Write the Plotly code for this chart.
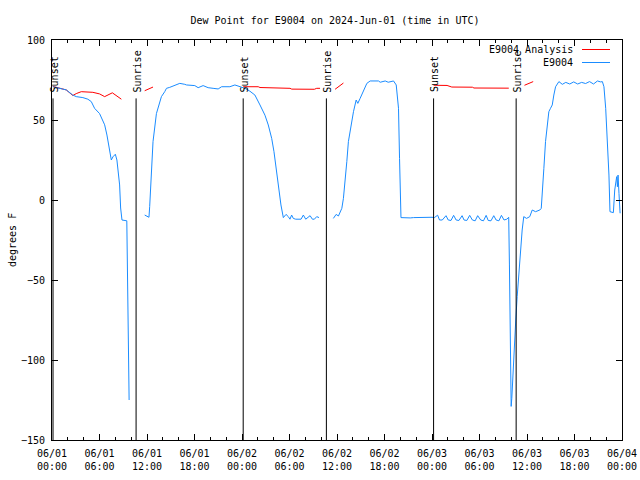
import plotly.graph_objects as go

# ---------------- data (hours since 2024-06-01 00:00 UTC) ----------------
obs_hours = [
    0.1, 0.95, 1.8, 2.63, 3.06, 3.9, 4.53, 4.96, 5.38, 6.01, 6.43, 6.65, 6.94, 7.19, 7.41, 7.49,
    7.7, 8.0, 8.2, 8.33, 8.54, 8.67, 8.84, 9.45, 9.5, 9.62, 9.74, None,
    11.71, 12.13, 12.25, 12.34, 12.56, 12.76, 13.19, 13.61, 13.82, 14.24, 14.46, 14.87, 15.29,
    15.92, 16.14, 16.77, 16.99, 18.04, 18.46, 19.09, 19.72, 20.35, 20.99, 21.42, 22.47, 23.1,
    23.73, 24.37, 25.0, 25.63, 26.27, 26.9, 27.32, 27.75, 28.04, 28.29, 28.58, 28.92, 29.22,
    29.56, 29.85, 30.06, 30.27, 30.48, 30.78, 31.46, 31.75, 32.05, 32.6, 32.89, 33.14, 33.44,
    33.73, None,
    35.54, 35.89, 36.18, 36.61, 36.81, 37.03, 37.24, 37.44, 37.75, 38.08, 38.42, 38.63, 38.92,
    39.34, 39.77, 40.19, 41.24, 41.46, 41.67, 42.09, 42.47, 42.72, 43.14, 43.48, 43.77, 43.9,
    44.08, 45.25, 45.67, 48.0, 48.3, 48.71, 48.95, 49.3, 49.77, 50.05, 50.4, 50.73, 51.05,
    51.4, 51.8, 52.05, 52.4, 52.76, 53.1, 53.45, 53.77, 54.15, 54.5, 54.84, 55.1, 55.45, 55.8,
    56.1, 56.45, 56.77, 57.1, 57.45, 57.69, 57.78, 57.91, 58.0, 58.08, 58.16, 58.25, 58.33,
    58.46, 58.58, 58.76, 58.96, 59.18, 59.39, 59.59, 59.94, 60.35, 60.66, 61.08, 61.62, 61.8,
    61.92, 62.13, 62.34, 62.56, 62.76, 62.97, 63.19, 63.39, 63.61, 64.03, 64.46, 64.9, 65.4,
    65.9, 66.4, 66.9, 67.4, 67.9, 68.4, 68.9, 69.3, 69.52, 69.72, 69.94, 70.15, 70.35, 70.48,
    70.91, 71.08, 71.33, 71.42, 71.5, 71.62, 71.76,
]
obs_dewpt = [
    70.8, 69.8, 68.8, 65.6, 64.6, 64.0, 63.0, 61.5, 57.3, 54.0, 50.0, 47.0, 40.6, 34.4, 28.0, 25.0,
    27.0, 28.6, 25.0, 17.7, 9.4, -5.0, -12.5, -13.0, -41.0, -97.0, -125.0, None,
    -9.4, -10.6, -10.8, -4.0, 15.6, 36.5, 54.0, 61.5, 64.6, 67.7, 69.8, 70.4, 71.2,
    72.5, 72.9, 72.3, 71.9, 71.5, 70.2, 71.5, 70.2, 69.8, 69.4, 70.8, 70.8, 71.9,
    71.0, 69.8, 68.0, 65.6, 59.4, 53.0, 46.9, 38.5, 30.2, 19.8, 9.4, -3.1, -11.0,
    -9.0, -10.4, -12.0, -9.4, -11.5, -12.0, -12.0, -9.4, -12.0, -9.8, -12.0, -12.0, -10.4,
    -11.0, None,
    -11.5, -9.0, -10.0, -5.2, 1.0, 11.5, 24.0, 36.5, 47.0, 55.2, 62.5, 60.4, 63.5,
    68.75, 72.9, 74.4, 74.4, 73.6, 73.8, 74.4, 73.6, 73.8, 74.4, 71.9, 57.3, 26.0,
    -11.0, -11.2, -11.0, -10.8, -11.0, -9.5, -12.5, -12.5, -9.8, -12.5, -12.8, -9.6, -12.5,
    -12.8, -9.8, -12.5, -12.8, -9.6, -12.5, -13.0, -9.8, -12.5, -13.0, -9.6, -12.8, -13.0, -9.8,
    -12.5, -13.0, -9.6, -12.5, -12.0, -10.8, -40.6, -100.0, -129.0, -124.0, -114.6, -104.0, -96.0,
    -85.4, -75.0, -60.4, -45.8, -29.0, -18.75, -10.4, -11.5, -10.4, -6.25, -7.3, -6.25, -5.2,
    6.25, 19.8, 36.5, 47.0, 55.2, 57.3, 59.4, 65.6, 70.8, 74.0, 72.3, 73.5, 72.5,
    73.8, 72.5, 73.5, 72.8, 74.0, 72.5, 74.4, 73.8, 74.0, 70.8, 57.3, 38.5, 15.6, -7.3,
    -7.9, 6.25, 14.6, 8.3, 15.6, 4.0, -8.3,
]

ana_hours = [
    0.1, 0.95, 1.8, 2.63, 3.06, 3.7, 5.16, 6.01, 6.65, 7.62, 8.13, 8.76, None,
    11.71, 12.2, 12.76, None,
    24.15, 26.05, 26.27, 27.95, 28.16, 30.06, 30.28, 33.14, 33.44, 33.86, None,
    35.76, 36.81, None,
    48.2, 49.9, 50.5, 53.1, 53.3, 57.7, None,
    59.68, 60.78,
]
ana_dewpt = [
    71.0, 69.8, 68.8, 65.3, 66.5, 67.7, 67.3, 66.3, 64.6, 67.0, 65.2, 63.0, None,
    68.3, 69.5, 70.6, None,
    70.8, 70.8, 70.3, 70.2, 69.8, 69.8, 69.3, 69.2, 69.8, 69.8, None,
    69.2, 73.1, None,
    71.7, 71.6, 70.6, 70.5, 70.0, 69.9, None,
    71.7, 74.0,
]

sunset_hours = [0.13, 24.15, 48.2]
sunrise_hours = [10.62, 34.66, 58.63]

tick_hours = [0, 6, 12, 18, 24, 30, 36, 42, 48, 54, 60, 66, 72]
tick_labels = [
    "06/01<br>00:00", "06/01<br>06:00", "06/01<br>12:00", "06/01<br>18:00",
    "06/02<br>00:00", "06/02<br>06:00", "06/02<br>12:00", "06/02<br>18:00",
    "06/03<br>00:00", "06/03<br>06:00", "06/03<br>12:00", "06/03<br>18:00",
    "06/04<br>00:00",
]
y_ticks = [100, 50, 0, -50, -100, -150]

series_names = ["E9004 Analysis", "E9004"]
series_colors = ["#ff0000", "#1a8cff"]

# ---------------- figure ----------------
FONT = "DejaVu Sans Mono"
FIG_W, FIG_H = 640, 480
plot_l, plot_w, plot_t, plot_h = 52, 570, 40, 400

fig = go.Figure()
fig.add_trace(go.Scatter(x=ana_hours, y=ana_dewpt, mode="lines", name=series_names[0],
                         line=dict(color=series_colors[0], width=1), connectgaps=False))
fig.add_trace(go.Scatter(x=obs_hours, y=obs_dewpt, mode="lines", name=series_names[1],
                         line=dict(color=series_colors[1], width=1), connectgaps=False))

shapes = []
annotations = []
for label, hours in (("Sunset", sunset_hours), ("Sunrise", sunrise_hours)):
    for h in hours:
        shapes.append(dict(type="line", xref="x", yref="y", x0=h, x1=h, y0=-150, y1=63.5,
                           line=dict(color="black", width=1)))
        annotations.append(dict(x=h, y=66.0, xref="x", yref="y", text=label, textangle=-90,
                                showarrow=False, xanchor="center", yanchor="bottom", xshift=1,
                                font=dict(family=FONT, size=10, color="black")))

# manual legend (text on the left, line sample on the right)
def px_x(px):
    return (px - plot_l) / plot_w
def px_y(py):
    return 1 - (py - plot_t) / plot_h

for i, (name, col) in enumerate(zip(series_names, series_colors)):
    yy = 49.5 + 13 * i
    annotations.append(dict(x=px_x(575), y=px_y(yy), xref="paper", yref="paper", text=name,
                            showarrow=False, xanchor="right", yanchor="middle",
                            font=dict(family=FONT, size=10, color="black")))
    shapes.append(dict(type="line", xref="paper", yref="paper", x0=px_x(582), x1=px_x(610),
                       y0=px_y(yy), y1=px_y(yy), line=dict(color=col, width=1)))

annotations.append(dict(x=px_x(12), y=0.5, xref="paper", yref="paper", text="degrees F",
                        textangle=-90, showarrow=False, xanchor="center", yanchor="middle",
                        font=dict(family=FONT, size=10, color="black")))

fig.update_layout(
    width=FIG_W, height=FIG_H,
    margin=dict(l=plot_l, r=FIG_W - plot_l - plot_w, t=plot_t, b=FIG_H - plot_t - plot_h,
                autoexpand=False),
    paper_bgcolor="white", plot_bgcolor="white",
    showlegend=False,
    title=dict(text="Dew Point for E9004 on 2024-Jun-01 (time in UTC)",
               x=335 / FIG_W, xref="container",
               y=1 - 20 / FIG_H, yref="container", xanchor="center", yanchor="middle",
               font=dict(family=FONT, size=10, color="black")),
    shapes=shapes, annotations=annotations,
    xaxis=dict(range=[0, 72], tickmode="array", tickvals=tick_hours, ticktext=tick_labels,
               ticks="inside", ticklen=6, tickcolor="black", showline=True, linecolor="black",
               linewidth=1, mirror="allticks", showgrid=False, zeroline=False,
               ticklabelstandoff=4,
               tickfont=dict(family=FONT, size=10, color="black"),
               minor=dict(dtick=2, tick0=0, ticks="inside", ticklen=3, tickcolor="black", showgrid=False)),
    yaxis=dict(range=[-150, 100], tickmode="array", tickvals=y_ticks, ticks="inside", ticklen=6,
               tickcolor="black", showline=True, linecolor="black", linewidth=1, mirror="allticks",
               showgrid=False, zeroline=False, ticklabelstandoff=4,
               tickfont=dict(family=FONT, size=10, color="black")),
)

# remove the default page margin so the 640x480 figure fills the window exactly
fig.write_html("out.html",
               config={"displayModeBar": False},
               post_script="document.body.style.margin='0';document.body.style.overflow='hidden';")
